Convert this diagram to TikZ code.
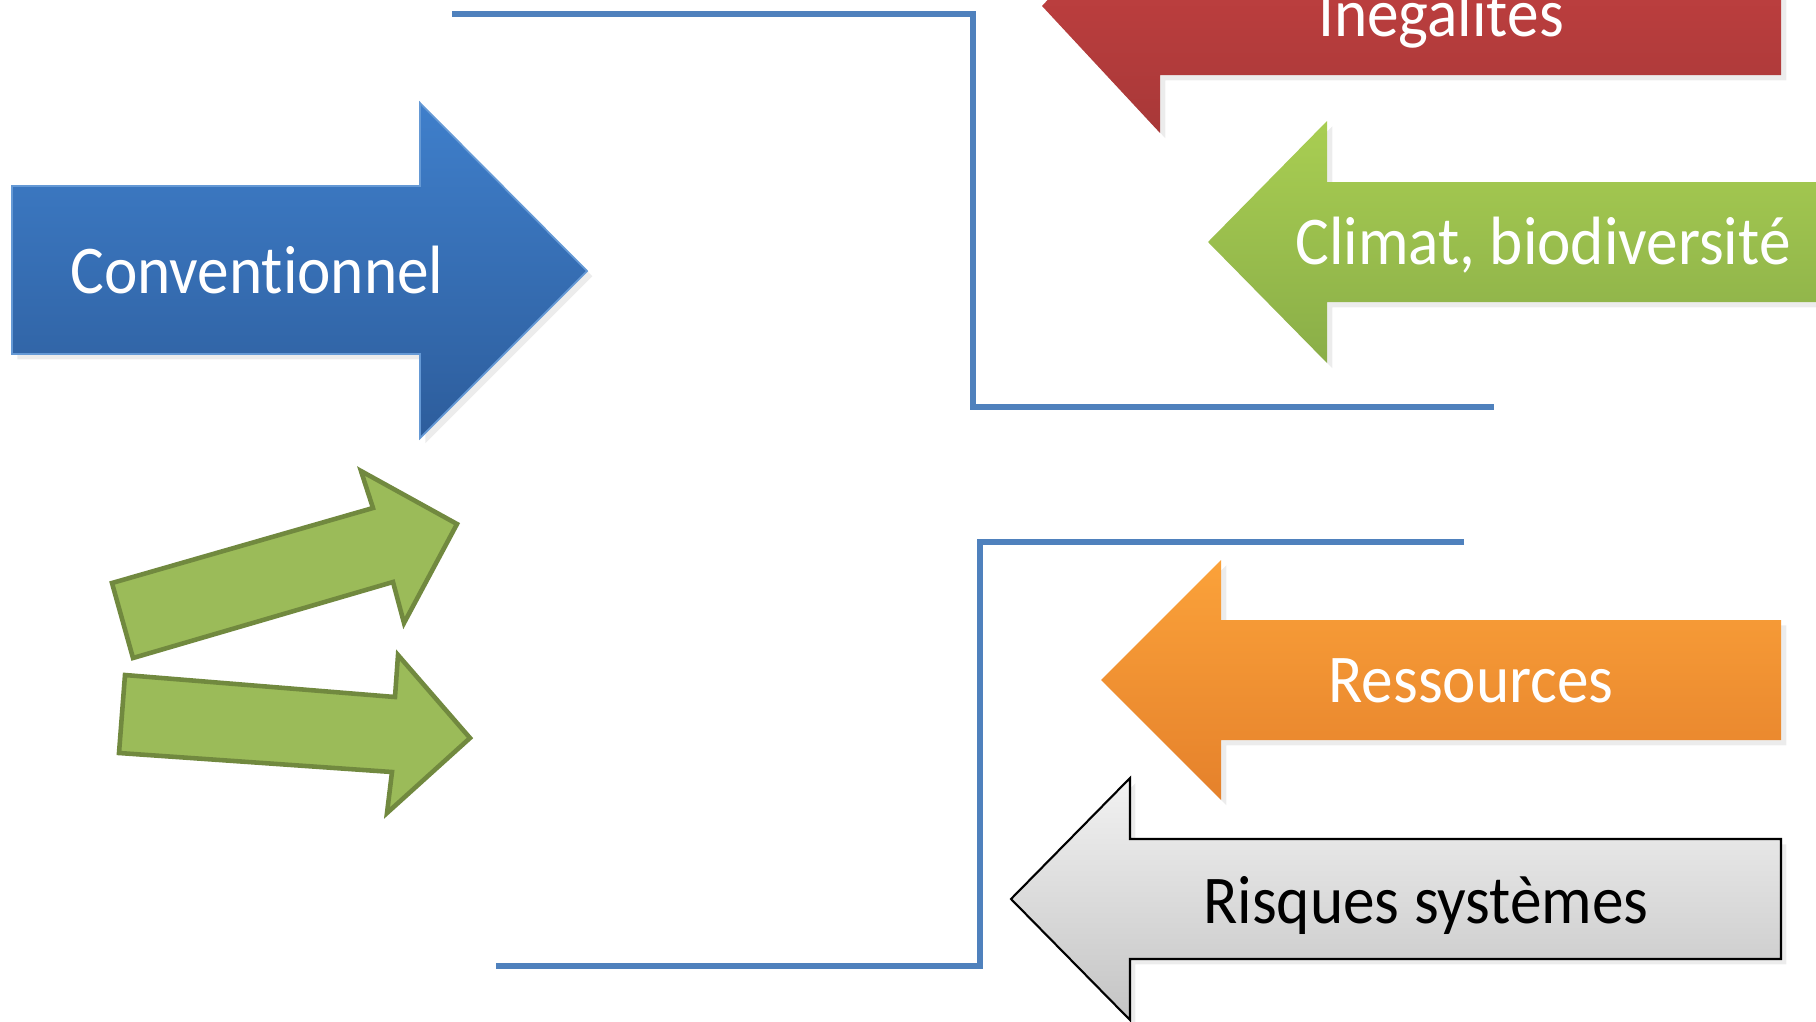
\documentclass[tikz,border=0pt]{standalone}
\usepackage{fontspec}
\setmainfont{Carlito}[Ligatures={NoCommon}]
\usetikzlibrary{calc,positioning,shadows}
\definecolor{brkblue}{HTML}{4F81BD}
\definecolor{convtop}{HTML}{3F7FCB}
\definecolor{convbot}{HTML}{2D5D9C}
\definecolor{redtop}{HTML}{CB4343}
\definecolor{redbot}{HTML}{A83838}
\definecolor{greentop}{HTML}{A9CE52}
\definecolor{greenbot}{HTML}{8AAE48}
\definecolor{orangetop}{HTML}{FBA23A}
\definecolor{orangebot}{HTML}{E5812B}
\definecolor{greytop}{HTML}{F2F2F2}
\definecolor{greybot}{HTML}{C4C4C4}
\definecolor{plainfill}{HTML}{9BBB59}
\definecolor{plaindraw}{HTML}{71893F}
\tikzset{
  bracket/.style={draw=brkblue, line width=1.8pt},
  fatarrow/.style={
    drop shadow={opacity=0.15, shadow xshift=1.5pt, shadow yshift=-1.5pt},
    line join=miter},
  plainarrow/.style={
    fill=plainfill,
    draw=plaindraw, line width=1.3pt,
    line join=miter},
  arrowtext/.style={
    anchor=base,
    inner sep=0pt,
    text=white,
    font=\fontsize{18}{20}\selectfont},
}
% left pointing arrow: tip x, centre y, head base x, head half, body half, right x
\newcommand{\leftarrowshape}[7][]{%
  \path[fatarrow,#1] (#2,#3) -- (#4,#3-#5) -- (#4,#3-#6) -- (#7,#3-#6)
    -- (#7,#3+#6) -- (#4,#3+#6) -- (#4,#3+#5) -- cycle;}

\begin{document}
\begin{tikzpicture}[x=0.01cm, y=-0.01cm]
  \useasboundingbox (0,0) rectangle (1816,1021);
  \clip (0,0) rectangle (1816,1021);

  % brackets
  \coordinate (ta) at (452,14);
  \coordinate (tb) at (973,14);
  \coordinate (tc) at (973,407);
  \coordinate (td) at (1494,407);
  \draw[bracket] (ta) -- (tb) -- (tc) -- (td);
  \coordinate (ba) at (1464,542);
  \coordinate (bb) at (980,542);
  \coordinate (bc) at (980,966);
  \coordinate (bd) at (496,966);
  \draw[bracket] (ba) -- (bb) -- (bc) -- (bd);

  % conventionnel
  \path[fatarrow, top color=convtop, bottom color=convbot, draw=convtop!80!white, line width=0.5pt]
    (12,186) -- (420,186) -- (420,103) -- (587,271) -- (420,438)
    -- (420,354) -- (12,354) -- cycle;
  \node[arrowtext] (conv) at (257,293) {\scalebox{1}[1.08]{Conventionnel}};

  % pressures
  \leftarrowshape[top color=redtop, bottom color=redbot]{1042}{6}{1160}{127}{69}{1781}
  \node[arrowtext] (ineg) at (1441,37) {\scalebox{1}[1.08]{Inégalités}};

  \leftarrowshape[top color=greentop, bottom color=greenbot]{1208}{242}{1327}{121}{60}{1840}
  \node[arrowtext] (clim) at (1543,264) {\scalebox{1}[1.08]{Climat, biodiversité}};

  \leftarrowshape[top color=orangetop, bottom color=orangebot]{1101}{680}{1221}{120}{60}{1781}
  \node[arrowtext] (ress) at (1471,702) {\scalebox{1}[1.08]{Ressources}};

  \leftarrowshape[top color=greytop, bottom color=greybot, draw=black, line width=0.6pt]{1011}{899}{1130}{121}{60}{1781}
  \node[arrowtext, text=black] (risq) at (1426,923) {\scalebox{1}[1.08]{Risques systèmes}};

  % small green arrows
  \draw[plainarrow] (112,583) -- (373,508) -- (361,471) -- (457,524)
    -- (404,623) -- (393,582) -- (133,658) -- cycle;
  \draw[plainarrow] (125,675) -- (395,697) -- (398,655) -- (470,738)
    -- (387,813) -- (392,772) -- (119,753) -- cycle;
\end{tikzpicture}
\end{document}
